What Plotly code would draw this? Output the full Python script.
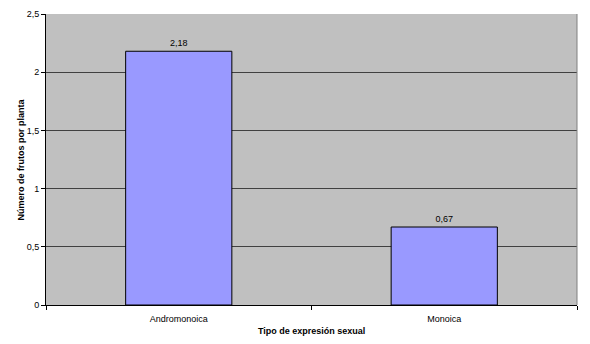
import plotly.graph_objects as go

categories = ["Andromonoica", "Monoica"]
values = [2.18, 0.67]
value_labels = ["2,18", "0,67"]
y_ticks = [0, 0.5, 1, 1.5, 2, 2.5]

fig = go.Figure()
fig.add_trace(go.Bar(
    x=categories, y=values,
    text=value_labels, textposition="outside",
    textfont=dict(family="Arial, Liberation Sans", size=9, color="#000000"),
    marker=dict(color="#9999FF", line=dict(color="#000000", width=1)),
    width=0.4, cliponaxis=False,
))
# page body has an 8px default margin, so the figure is sized 8px smaller
fig.update_layout(
    width=582, height=336,
    margin=dict(l=38, r=13, t=6, b=39),
    paper_bgcolor="#FFFFFF", plot_bgcolor="#C0C0C0",
    separators=",.",
    showlegend=False,
    font=dict(family="Arial, Liberation Sans", size=9, color="#000000"),
)
fig.update_xaxes(
    automargin=False,
    showline=True, linecolor="#000000", linewidth=1,
    ticks="outside", ticklen=4, tickcolor="#000000", tickson="boundaries",
    ticklabelstandoff=5,
    showgrid=False,
    tickfont=dict(size=9),
)
fig.update_yaxes(
    automargin=False,
    range=[0, 2.5], tickvals=y_ticks,
    showline=True, linecolor="#000000", linewidth=1,
    ticks="outside", ticklen=4, tickcolor="#000000",
    showgrid=True, gridcolor="#404040", gridwidth=1,
    zeroline=False,
    tickfont=dict(size=9),
)
fig.add_annotation(text="<b>Tipo de expresión sexual</b>", xref="paper", yref="paper",
                   x=0.5, y=0, yshift=-26, yanchor="middle", showarrow=False,
                   font=dict(size=9))
fig.add_annotation(text="<b>Número de frutos por planta</b>", xref="paper", yref="paper",
                   x=0, y=0.5, xshift=-26, xanchor="center", yanchor="middle", textangle=-90,
                   showarrow=False, font=dict(size=9))
# right border of plot area
fig.add_shape(type="line", xref="paper", yref="paper", x0=1, x1=1, y0=0, y1=1,
              line=dict(color="#808080", width=1))
fig.write_html("out.html")
